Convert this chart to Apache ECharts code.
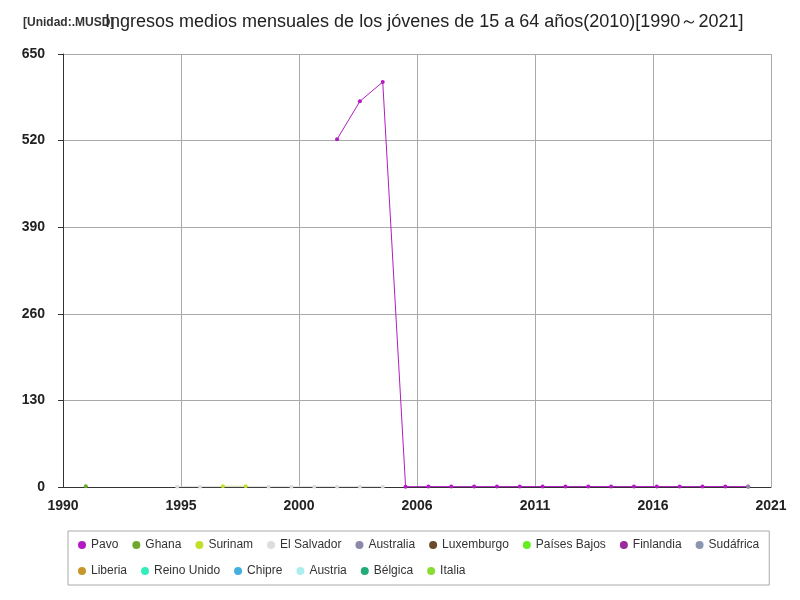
<!DOCTYPE html><html><head><meta charset="utf-8"><script src="https://cdn.jsdelivr.net/npm/echarts@6/dist/echarts.min.js"></script></head><body style="margin:0"><div id="c" style="width:800px;height:600px"></div><script>
const seriesNames=["Pavo","Ghana","Surinam","El Salvador","Australia","Luxemburgo","Países Bajos","Finlandia","Sudáfrica","Liberia","Reino Unido","Chipre","Austria","Bélgica","Italia"];
const colors=["#b01cc0","#6fa82b","#c2e02a","#dddddd","#8a8aa8","#6b4a2a","#66ee22","#9a2a9a","#8a95b0","#c8962a","#33eebb","#44b0dd","#aaeeee","#22aa77","#88dd33"];
const pavoYears=[2002,2003,2004,2005,2006,2007,2008,2009,2010,2011,2012,2013,2014,2015,2016,2017,2018,2019,2020];
const pavoValues=[522,579,608,0.5,0.6,0.6,0.6,0.6,0.7,0.7,0.7,0.7,0.7,0.7,0.7,0.7,0.7,0.7,0.7];
const ghanaYears=[1991];const ghanaValues=[1];
const surinamYears=[1997,1998];const surinamValues=[1,1];
const salvYears=[1995,1996,1999,2000,2001,2002,2003,2004];const salvValues=[0.5,0.5,0.5,0.5,0.5,0.5,0.5,0.5];
const ausYears=[2020];const ausValues=[0.5];
const extra={Pavo:[pavoYears,pavoValues],Ghana:[ghanaYears,ghanaValues],Surinam:[surinamYears,surinamValues],"El Salvador":[salvYears,salvValues],Australia:[ausYears,ausValues]};
const series=seriesNames.map((n,i)=>{const d=extra[n]||[[],[]];return {name:n,type:'line',symbol:'circle',symbolSize:4,lineStyle:{width:1},color:colors[i],data:d[0].map((y,k)=>[y-1990,d[1][k]])};});
const ch=echarts.init(document.getElementById('c'));
ch.setOption({animation:false,
title:[{text:'Ingresos medios mensuales de los jóvenes de 15 a 64 años(2010)[1990～2021]',left:100,top:8,textStyle:{fontSize:18,fontWeight:'normal',color:'#222'}},{text:'[Unidad:.MUSD]',left:18,top:12,textStyle:{fontSize:12,fontWeight:'bold',color:'#333'}}],
grid:{left:63,right:29,top:54,bottom:113},
xAxis:{type:'value',min:0,max:31,interval:31/6,axisLabel:{formatter:v=>Math.round(v+1990),fontSize:14,fontWeight:'bold',color:'#222',margin:12},splitLine:{lineStyle:{color:'#aaa'}},axisLine:{lineStyle:{color:'#333'}},axisTick:{show:false}},
yAxis:{type:'value',min:0,max:650,interval:130,axisLabel:{fontSize:14,fontWeight:'bold',color:'#222',margin:18},splitLine:{lineStyle:{color:'#aaa'}},axisLine:{show:true,lineStyle:{color:'#333'}}},
legend:{bottom:15,left:68,width:700,borderColor:'#aaa',borderWidth:1,padding:[8,10],itemWidth:8,itemHeight:8,icon:'circle',itemGap:14,textStyle:{fontSize:12,color:'#333'}},
series});
</script></body></html>
